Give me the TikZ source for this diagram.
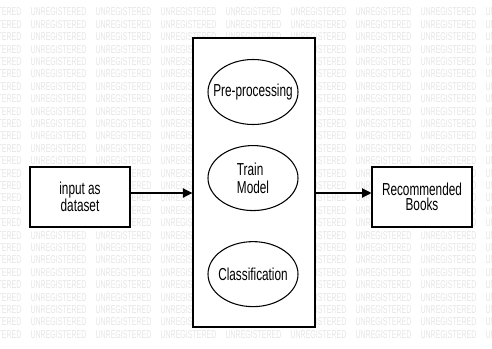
\documentclass[tikz,border=0pt]{standalone}
\usepackage{fontspec}
\setmainfont{Liberation Sans}[FakeStretch=0.68]
\newfontfamily\markfont{Liberation Sans}[FakeStretch=0.62]
\usetikzlibrary{shapes,arrows.meta,calc,positioning}

\begin{document}
\begin{tikzpicture}[x=0.75pt,y=-0.75pt,->,>={Triangle[length=7pt,width=7pt]},line width=0.8pt,
    box node/.style={rectangle,draw,fill=white,minimum width=75pt,minimum height=45pt,inner sep=1pt,align=center,font=\fontsize{13pt}{11.5pt}\selectfont},
    step node/.style={ellipse,draw,fill=white,minimum width=67.5pt,minimum height=48.75pt,inner xsep=-8pt,inner ysep=0pt,align=left,font=\fontsize{13pt}{13.5pt}\selectfont},
    mark text/.style={anchor=west,inner sep=0pt,text=black!10,font=\markfont\fontsize{8.5pt}{8.5pt}\selectfont}]
    \useasboundingbox (0,0) rectangle (492,349);

    \begin{scope}
        \clip (0,0) rectangle (492,349);
        \foreach \r in {0,...,26}
            \foreach \c in {-1,...,7}
                \node[mark text] (mark\r-\c) at (30+65*\c,12+12.4*\r) {UNREGISTERED};
    \end{scope}

    \node[box node,line width=1.1pt,minimum width=91.5pt,minimum height=216.75pt] (process) at (254,182.5) {};
    \node[step node] (pre) at (253,92) {Pre-processing};
    \node[step node,below=15pt of pre] (train) {Train\\Model};
    \node[step node,below=22.5pt of train] (classify) {Classification};
    \node[box node] (input) at (80,197) {input as\\dataset};
    \node[box node] (books) at (422,197) {Recommended\\Books};

    \path ([yshift=3pt]input.east) edge ([yshift=3pt]input.east -| process.west)
        ([yshift=3pt]books.west -| process.east) edge ([yshift=3pt]books.west);
\end{tikzpicture}
\end{document}
